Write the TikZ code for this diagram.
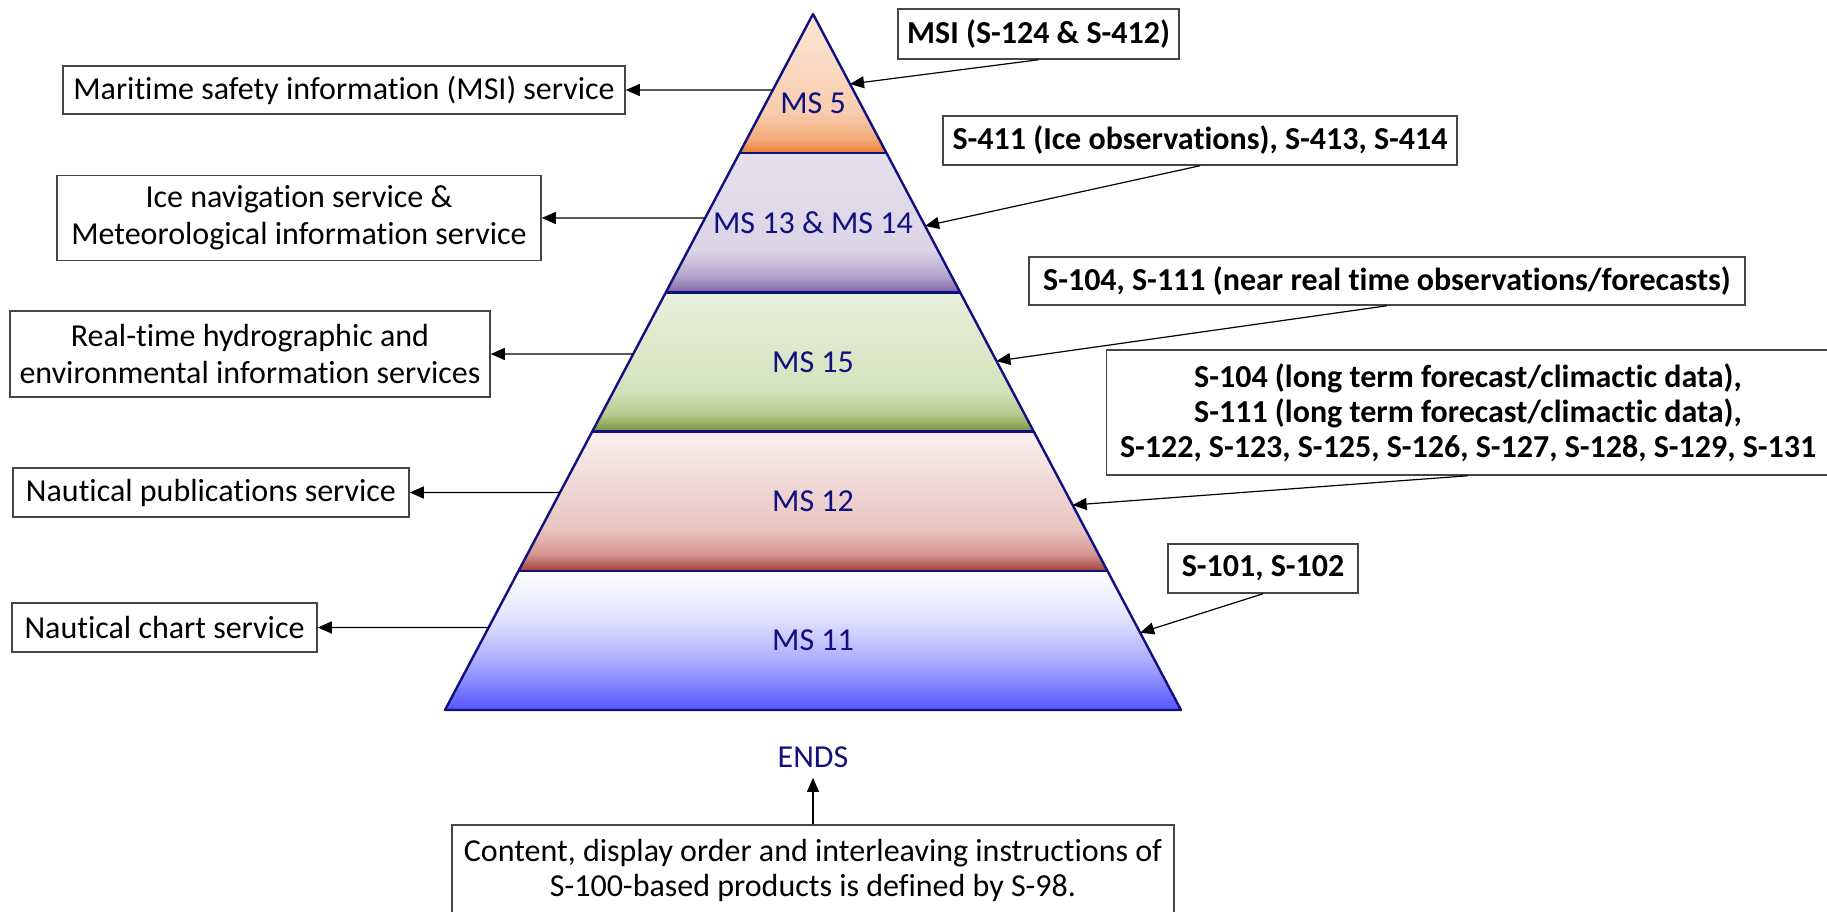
\documentclass[tikz,border=0pt]{standalone}
\usepackage{fontspec}
\setmainfont{Carlito}[Ligatures=NoCommon]
\usetikzlibrary{arrows.meta,calc}

\definecolor{navy}{RGB}{16,16,128}
\definecolor{boxgray}{RGB}{70,70,70}

\definecolor{msfivetop}{RGB}{252,230,214}
\definecolor{msfivemid}{RGB}{248,205,175}
\definecolor{msfivelow}{RGB}{243,170,120}
\definecolor{msfivebot}{RGB}{237,125,49}
\definecolor{msthtop}{RGB}{230,224,236}
\definecolor{msthmid}{RGB}{219,212,230}
\definecolor{msthlow}{RGB}{181,165,206}
\definecolor{msthbot}{RGB}{128,100,162}
\definecolor{msfftop}{RGB}{233,239,220}
\definecolor{msffmid}{RGB}{214,226,188}
\definecolor{msfflow}{RGB}{180,200,140}
\definecolor{msffbot}{RGB}{119,147,60}
\definecolor{mstwtop}{RGB}{250,240,240}
\definecolor{mstwmid}{RGB}{232,196,192}
\definecolor{mstwlow}{RGB}{214,150,146}
\definecolor{mstwbot}{RGB}{160,64,60}
\definecolor{mselvtop}{RGB}{255,255,255}
\definecolor{mselvmid}{RGB}{226,226,255}
\definecolor{mselvlow}{RGB}{170,170,255}
\definecolor{mselvbot}{RGB}{85,85,255}

\pgfdeclareverticalshading{shfive}{100bp}{color(0bp)=(msfivebot); color(25bp)=(msfivebot); color(30bp)=(msfivelow); color(40bp)=(msfivemid); color(75bp)=(msfivetop); color(100bp)=(msfivetop)}
\pgfdeclareverticalshading{shthirteen}{100bp}{color(0bp)=(msthbot); color(25bp)=(msthbot); color(31bp)=(msthlow); color(40bp)=(msthmid); color(75bp)=(msthtop); color(100bp)=(msthtop)}
\pgfdeclareverticalshading{shfifteen}{100bp}{color(0bp)=(msffbot); color(25bp)=(msffbot); color(31bp)=(msfflow); color(40bp)=(msffmid); color(75bp)=(msfftop); color(100bp)=(msfftop)}
\pgfdeclareverticalshading{shtwelve}{100bp}{color(0bp)=(mstwbot); color(25bp)=(mstwbot); color(31bp)=(mstwlow); color(40bp)=(mstwmid); color(75bp)=(mstwtop); color(100bp)=(mstwtop)}
\pgfdeclareverticalshading{sheleven}{100bp}{color(0bp)=(mselvbot); color(25bp)=(mselvbot); color(42bp)=(mselvlow); color(58bp)=(mselvmid); color(75bp)=(mselvtop); color(100bp)=(mselvtop)}

\begin{document}
\begin{tikzpicture}[x=0.5pt,y=-0.5pt,
  font=\fontsize{16}{18.5}\selectfont,
  box/.style={draw=boxgray, line width=0.75pt, fill=white, inner sep=0pt, align=center},
  rbox/.style={box, font=\fontsize{16}{17.5}\selectfont\bfseries},
  conn/.style={draw=black, line width=0.6pt, -{Triangle[length=7pt,width=6pt]}},
  mslabel/.style={text=navy, inner sep=0pt},
  pyrline/.style={draw=navy, line width=1.2pt, line join=round}]
\useasboundingbox (0,0) rectangle (1827,911);

% pyramid geometry
\coordinate (A) at (813,14);
\coordinate (BL) at (445,710);
\coordinate (BR) at (1181,710);
\coordinate (L1) at ($(A)!0.2!(BL)$);
\coordinate (L2) at ($(A)!0.4!(BL)$);
\coordinate (L3) at ($(A)!0.6!(BL)$);
\coordinate (L4) at ($(A)!0.8!(BL)$);
\coordinate (R1) at ($(A)!0.2!(BR)$);
\coordinate (R2) at ($(A)!0.4!(BR)$);
\coordinate (R3) at ($(A)!0.6!(BR)$);
\coordinate (R4) at ($(A)!0.8!(BR)$);

\path[shading=shfive] (A) -- (R1) -- (L1) -- cycle;
\path[shading=shthirteen] (L1) -- (R1) -- (R2) -- (L2) -- cycle;
\path[shading=shfifteen] (L2) -- (R2) -- (R3) -- (L3) -- cycle;
\path[shading=shtwelve] (L3) -- (R3) -- (R4) -- (L4) -- cycle;
\path[shading=sheleven] (L4) -- (R4) -- (BR) -- (BL) -- cycle;

\draw[pyrline] (L1) -- (R1);
\draw[pyrline] (L2) -- (R2);
\draw[pyrline] (L3) -- (R3);
\draw[pyrline] (L4) -- (R4);
\draw[pyrline] (A) -- (BR) -- (BL) -- cycle;

\node[mslabel] (ms5) at (813,103) {MS 5};
\node[mslabel] (ms13) at (813,223) {MS 13 \& MS 14};
\node[mslabel] (ms15) at (813,362) {MS 15};
\node[mslabel] (ms12) at (813,501) {MS 12};
\node[mslabel] (ms11) at (813,640) {MS 11};

% left boxes
\node[box, minimum width=281pt, minimum height=24pt] (lmsi) at (344,90) {Maritime safety information (MSI) service};
\node[box, minimum width=242pt, minimum height=42.5pt] (lice) at (299,218) {Ice navigation service \&\\Meteorological information service};
\node[box, minimum width=240pt, minimum height=43pt] (lreal) at (250,354) {Real-time hydrographic and\\environmental information services};
\node[box, minimum width=198pt, minimum height=24.5pt] (lpub) at (211,492.5) {Nautical publications service};
\node[box, minimum width=152.5pt, minimum height=24.5pt] (lchart) at (164.5,627.5) {Nautical chart service};

\coordinate (el1) at (intersection of A--BL and lmsi.east--lmsi.west);
\coordinate (el2) at (intersection of A--BL and lice.east--lice.west);
\coordinate (el3) at (intersection of A--BL and lreal.east--lreal.west);
\coordinate (el4) at (intersection of A--BL and lpub.east--lpub.west);
\coordinate (el5) at (intersection of A--BL and lchart.east--lchart.west);

\draw[conn] (el1) -- (lmsi.east);
\draw[conn] (el2) -- (lice.east);
\draw[conn] (el3) -- (lreal.east);
\draw[conn] (el4) -- (lpub.east);
\draw[conn] (el5) -- (lchart.east);

% right boxes
\node[rbox, minimum width=140.5pt, minimum height=25pt] (rmsi) at (1038.5,34) {MSI (S-124 \& S-412)};
\node[rbox, minimum width=257pt, minimum height=24.5pt] (rice) at (1200,140.5) {S-411 (Ice observations), S-413, S-414};
\node[rbox, minimum width=358pt, minimum height=24pt] (rnear) at (1387,281) {S-104, S-111 (near real time observations/forecasts)};
\node[rbox, minimum width=361.5pt, minimum height=62.5pt] (rlong) at (1468,412.5) {S-104 (long term forecast/climactic data),\\S-111 (long term forecast/climactic data),\\S-122, S-123, S-125, S-126, S-127, S-128, S-129, S-131};
\node[rbox, minimum width=95pt, minimum height=24.5pt] (rchart) at (1263,568.5) {S-101, S-102};

\coordinate (er1) at ($(A)!0.1006!(BR)$);
\coordinate (er2) at ($(A)!0.3046!(BR)$);
\coordinate (er3) at ($(A)!0.4986!(BR)$);
\coordinate (er4) at ($(A)!0.7055!(BR)$);
\coordinate (er5) at ($(A)!0.889!(BR)$);

\draw[conn] (rmsi.south) -- (er1);
\draw[conn] (rice.south) -- (er2);
\draw[conn] (rnear.south) -- (er3);
\draw[conn] (rlong.south) -- (er4);
\draw[conn] (rchart.south) -- (er5);

% bottom
\node[text=navy, inner sep=5pt] (ends) at (813,757) {ENDS};
\node[box, anchor=north, minimum width=361pt, minimum height=55pt] (bbox) at (813,824) {};
\node[inner sep=0pt, align=center, font=\fontsize{16}{17.5}\selectfont] (btext) at (813,870) {Content, display order and interleaving instructions of\\S-100-based products is defined by S-98.};
\draw[conn] (bbox.north) -- (ends.south);
\end{tikzpicture}
\end{document}
